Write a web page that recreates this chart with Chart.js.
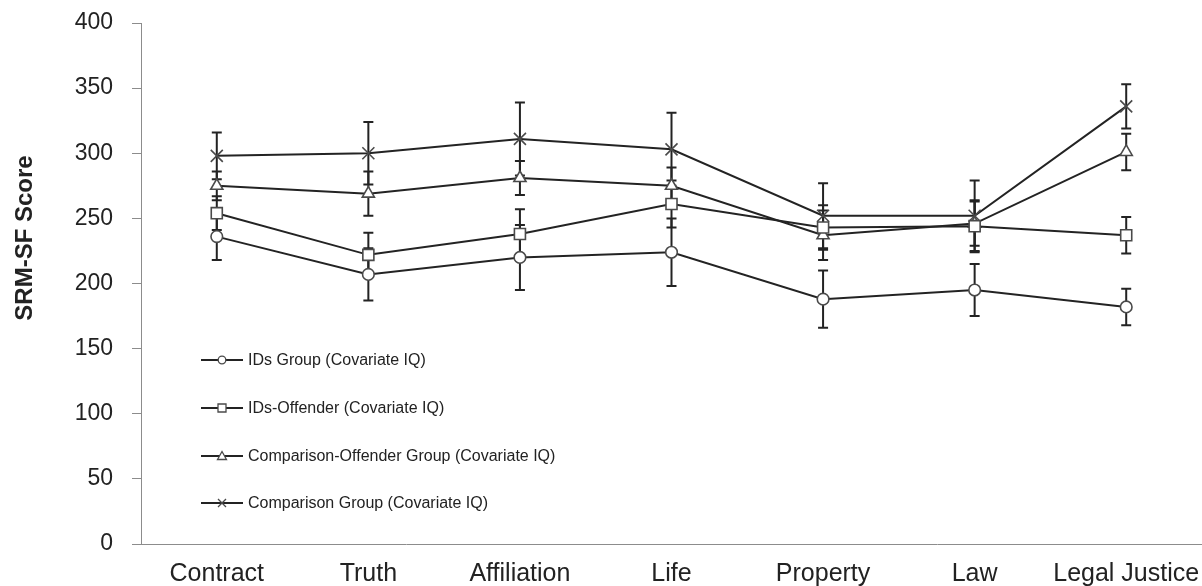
<!DOCTYPE html>
<html>
<head>
<meta charset="utf-8">
<script src="https://cdn.jsdelivr.net/npm/chart.js@4.4.1/dist/chart.umd.min.js"></script>
<style>
  html, body { margin: 0; padding: 0; background: #fff; overflow: hidden; }
  canvas { display: block; }
</style>
</head>
<body>
<canvas id="myChart" width="1202" height="586"></canvas>
<script>
// categories + group means / error bars
const categories = ['Contract', 'Truth', 'Affiliation', 'Life', 'Property', 'Law', 'Legal Justice'];
const yTicks = [0, 50, 100, 150, 200, 250, 300, 350, 400];

const idsGroup = [236, 207, 220, 224, 188, 195, 182];
const idsGroupErr = [18, 20, 25, 26, 22, 20, 14];

const idsOffender = [254, 222, 238, 261, 243, 244, 237];
const idsOffenderErr = [13, 17, 19, 18, 17, 20, 14];

const compOffender = [275, 269, 281, 275, 237, 246, 301];
const compOffenderErr = [11, 17, 13, 14, 19, 17, 14];

const comparison = [298, 300, 311, 303, 252, 252, 336];
const comparisonErr = [18, 24, 28, 28, 25, 27, 17];

const seriesNames = [
    'IDs Group (Covariate IQ)',
    'IDs-Offender (Covariate IQ)',
    'Comparison-Offender Group (Covariate IQ)',
    'Comparison Group (Covariate IQ)'
];

const FONT = "'Liberation Sans', Arial, sans-serif";
const LINE = '#232323';
const MARK = '#4a4a4a';

function makeSet(label, data, errs, style, radius) {
    return {
        label: label,
        data: data,
        errors: errs,
        borderColor: LINE,
        borderWidth: 2,
        pointStyle: style,
        pointRadius: radius,
        pointBackgroundColor: '#fff',
        pointBorderColor: MARK,
        pointBorderWidth: 1.6,
        tension: 0,
        fill: false,
        clip: false
    };
}

// error bars, drawn before the lines so the markers sit on top
const errorBars = {
    id: 'errorBars',
    beforeDatasetsDraw(chart) {
        const ctx = chart.ctx;
        const y = chart.scales.y;
        ctx.save();
        ctx.strokeStyle = LINE;
        ctx.lineWidth = 2;
        chart.data.datasets.forEach((ds, i) => {
            const meta = chart.getDatasetMeta(i);
            meta.data.forEach((pt, j) => {
                const top = y.getPixelForValue(ds.data[j] + ds.errors[j]);
                const bot = y.getPixelForValue(ds.data[j] - ds.errors[j]);
                ctx.beginPath();
                ctx.moveTo(pt.x, top);
                ctx.lineTo(pt.x, bot);
                ctx.moveTo(pt.x - 5, top);
                ctx.lineTo(pt.x + 5, top);
                ctx.moveTo(pt.x - 5, bot);
                ctx.lineTo(pt.x + 5, bot);
                ctx.stroke();
            });
        });
        ctx.restore();
    }
};

function legendMarker(ctx, style, x, y) {
    ctx.beginPath();
    if (style === 'circle') {
        ctx.arc(x, y, 3.8, 0, Math.PI * 2);
        ctx.fill();
        ctx.stroke();
    } else if (style === 'rect') {
        ctx.rect(x - 4, y - 4, 8, 8);
        ctx.fill();
        ctx.stroke();
    } else if (style === 'triangle') {
        ctx.moveTo(x, y - 4.5);
        ctx.lineTo(x + 4.5, y + 3.5);
        ctx.lineTo(x - 4.5, y + 3.5);
        ctx.closePath();
        ctx.fill();
        ctx.stroke();
    } else {
        ctx.moveTo(x - 4, y - 4);
        ctx.lineTo(x + 4, y + 4);
        ctx.moveTo(x + 4, y - 4);
        ctx.lineTo(x - 4, y + 4);
        ctx.stroke();
    }
}

// legend inside the plot + rotated y title
const extras = {
    id: 'extras',
    afterDraw(chart) {
        const ctx = chart.ctx;
        const rows = [360, 408, 456, 503];
        ctx.save();
        chart.data.datasets.forEach((ds, i) => {
            const yy = rows[i];
            ctx.strokeStyle = LINE;
            ctx.lineWidth = 2;
            ctx.beginPath();
            ctx.moveTo(201, yy);
            ctx.lineTo(243, yy);
            ctx.stroke();
            ctx.fillStyle = '#fff';
            ctx.strokeStyle = MARK;
            ctx.lineWidth = 1.3;
            legendMarker(ctx, ds.pointStyle, 222, yy);
            ctx.fillStyle = '#222';
            ctx.font = '16px ' + FONT;
            ctx.textBaseline = 'middle';
            ctx.textAlign = 'left';
            ctx.fillText(ds.label, 248, yy + 1);
        });
        ctx.translate(25, 238);
        ctx.rotate(-Math.PI / 2);
        ctx.font = 'bold 24px ' + FONT;
        ctx.fillStyle = '#222';
        ctx.textAlign = 'center';
        ctx.textBaseline = 'middle';
        ctx.fillText('SRM-SF Score', 0, 0);
        ctx.restore();
    }
};

const ctx = document.getElementById('myChart').getContext('2d');
const myChart = new Chart(ctx, {
    type: 'line',
    data: {
        labels: categories,
        datasets: [
            makeSet(seriesNames[0], idsGroup, idsGroupErr, 'circle', 5.8),
            makeSet(seriesNames[1], idsOffender, idsOffenderErr, 'rect', 7.8),
            makeSet(seriesNames[2], compOffender, compOffenderErr, 'triangle', 7),
            makeSet(seriesNames[3], comparison, comparisonErr, 'crossRot', 8.5)
        ]
    },
    options: {
        responsive: false,
        animation: false,
        layout: { autoPadding: false, padding: { top: 23, right: 0, left: 0, bottom: 0 } },
        plugins: {
            legend: { display: false },
            tooltip: { enabled: false }
        },
        scales: {
            x: {
                offset: true,
                grid: { display: false, drawTicks: false },
                border: { display: true, color: '#8c8c8c', width: 1 },
                ticks: {
                    color: '#222',
                    font: { family: FONT, size: 25 },
                    padding: 15,
                    maxRotation: 0,
                    autoSkip: false
                },
                afterFit(scale) {
                    scale.height = 42;
                    scale.paddingLeft = 0;
                    scale.paddingRight = 0;
                }
            },
            y: {
                min: 0,
                max: 400,
                afterBuildTicks(scale) {
                    scale.ticks = yTicks.map(v => ({ value: v }));
                },
                grid: {
                    drawOnChartArea: false,
                    drawTicks: true,
                    tickLength: 9,
                    color: '#8c8c8c'
                },
                border: { display: true, color: '#8c8c8c', width: 1 },
                ticks: {
                    color: '#222',
                    font: { family: FONT, size: 23 },
                    padding: 19
                },
                afterFit(scale) {
                    scale.width = 141;
                    scale.paddingTop = 0;
                    scale.paddingBottom = 0;
                }
            }
        }
    },
    plugins: [errorBars, extras]
});
</script>
</body>
</html>
